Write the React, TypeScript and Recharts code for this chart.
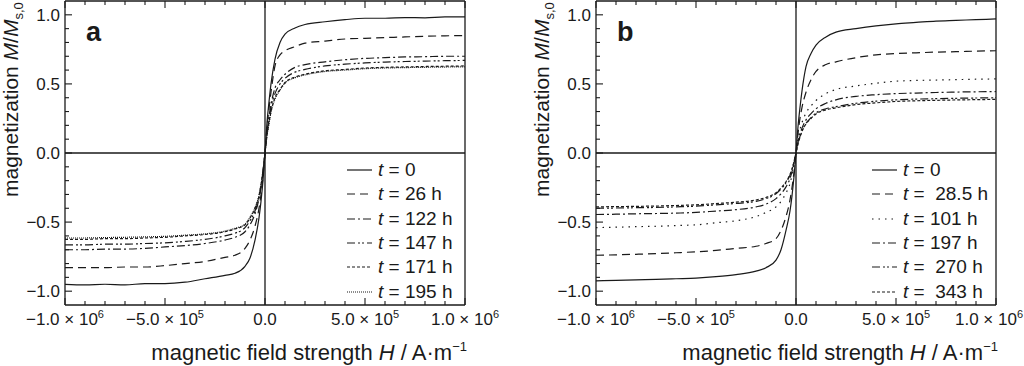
import React from 'react'
import { LineChart, Line, XAxis, YAxis, ReferenceLine, Legend } from 'recharts'

const FONT = '"Liberation Sans", Arial, sans-serif'
const INK = '#1a1a1a'

// applied field H in A/m (shared by both panels)
const H = [-1e6, -9e5, -8e5, -7e5, -6e5, -5e5, -4e5, -3e5, -2e5, -1.5e5, -1e5, -7.5e4, -5e4, -3e4, -2e4, -1e4, 0,
  1e4, 2e4, 3e4, 5e4, 7.5e4, 1e5, 1.5e5, 2e5, 3e5, 4e5, 5e5, 6e5, 7e5, 8e5, 9e5, 1e6]

// panel a
const A_T0 = [-0.95, -0.955, -0.95, -0.955, -0.945, -0.945, -0.935, -0.91, -0.885, -0.87, -0.82, -0.76, -0.63, -0.47, -0.35, -0.2, 0,
  0.22, 0.37, 0.5, 0.68, 0.8, 0.86, 0.905, 0.93, 0.95, 0.965, 0.975, 0.975, 0.98, 0.978, 0.985, 0.985]
const A_T26 = [-0.83, -0.83, -0.83, -0.825, -0.825, -0.815, -0.8, -0.785, -0.755, -0.74, -0.69, -0.63, -0.53, -0.4, -0.3, -0.17, 0,
  0.19, 0.32, 0.44, 0.63, 0.71, 0.74, 0.77, 0.795, 0.81, 0.825, 0.83, 0.835, 0.84, 0.845, 0.848, 0.85]
const A_T122 = [-0.7, -0.7, -0.695, -0.695, -0.69, -0.68, -0.67, -0.655, -0.63, -0.61, -0.57, -0.52, -0.44, -0.33, -0.25, -0.14, 0,
  0.15, 0.26, 0.35, 0.47, 0.53, 0.57, 0.62, 0.64, 0.66, 0.675, 0.685, 0.69, 0.695, 0.697, 0.7, 0.7]
const A_T147 = [-0.665, -0.665, -0.66, -0.66, -0.655, -0.65, -0.64, -0.625, -0.6, -0.58, -0.54, -0.49, -0.42, -0.32, -0.24, -0.13, 0,
  0.14, 0.24, 0.33, 0.43, 0.5, 0.54, 0.585, 0.605, 0.63, 0.643, 0.652, 0.658, 0.662, 0.665, 0.668, 0.67]
const A_T171 = [-0.625, -0.625, -0.62, -0.62, -0.615, -0.61, -0.6, -0.59, -0.57, -0.55, -0.52, -0.47, -0.4, -0.31, -0.23, -0.13, 0,
  0.13, 0.22, 0.3, 0.4, 0.46, 0.51, 0.55, 0.57, 0.595, 0.605, 0.615, 0.62, 0.623, 0.626, 0.628, 0.63]
const A_T195 = [-0.615, -0.615, -0.612, -0.61, -0.607, -0.603, -0.595, -0.585, -0.565, -0.545, -0.515, -0.465, -0.395, -0.305, -0.225, -0.125, 0,
  0.125, 0.215, 0.295, 0.39, 0.455, 0.505, 0.545, 0.565, 0.59, 0.6, 0.61, 0.615, 0.618, 0.62, 0.622, 0.624]

// panel b
const B_T0 = [-0.925, -0.922, -0.918, -0.915, -0.91, -0.905, -0.895, -0.88, -0.855, -0.83, -0.775, -0.7, -0.56, -0.42, -0.31, -0.17, 0,
  0.19, 0.33, 0.45, 0.625, 0.72, 0.78, 0.84, 0.875, 0.9, 0.92, 0.935, 0.945, 0.955, 0.96, 0.965, 0.97]
const B_T28 = [-0.74, -0.737, -0.733, -0.728, -0.722, -0.715, -0.705, -0.69, -0.675, -0.655, -0.62, -0.56, -0.46, -0.34, -0.25, -0.14, 0,
  0.14, 0.25, 0.33, 0.44, 0.53, 0.59, 0.64, 0.66, 0.69, 0.71, 0.72, 0.725, 0.73, 0.733, 0.737, 0.74]
const B_T101 = [-0.54, -0.537, -0.533, -0.53, -0.525, -0.52, -0.505, -0.49, -0.46, -0.43, -0.39, -0.35, -0.29, -0.22, -0.16, -0.09, 0,
  0.1, 0.17, 0.22, 0.29, 0.34, 0.38, 0.43, 0.46, 0.485, 0.505, 0.52, 0.525, 0.528, 0.531, 0.534, 0.536]
const B_T197 = [-0.445, -0.443, -0.44, -0.438, -0.435, -0.43, -0.42, -0.41, -0.39, -0.37, -0.33, -0.295, -0.245, -0.185, -0.135, -0.075, 0,
  0.08, 0.14, 0.18, 0.24, 0.285, 0.32, 0.36, 0.385, 0.41, 0.422, 0.43, 0.434, 0.438, 0.441, 0.443, 0.445]
const B_T270 = [-0.4, -0.398, -0.396, -0.394, -0.39, -0.385, -0.375, -0.365, -0.35, -0.33, -0.295, -0.26, -0.215, -0.16, -0.12, -0.065, 0,
  0.07, 0.12, 0.16, 0.215, 0.255, 0.29, 0.32, 0.335, 0.36, 0.375, 0.385, 0.39, 0.393, 0.396, 0.398, 0.4]
const B_T343 = [-0.39, -0.388, -0.386, -0.384, -0.38, -0.375, -0.366, -0.356, -0.34, -0.322, -0.288, -0.253, -0.208, -0.155, -0.115, -0.062, 0,
  0.065, 0.115, 0.155, 0.21, 0.25, 0.283, 0.312, 0.327, 0.35, 0.363, 0.373, 0.378, 0.381, 0.384, 0.386, 0.388]

const X_TICKS = [-1e6, -9e5, -8e5, -7e5, -6e5, -5e5, -4e5, -3e5, -2e5, -1e5, 0, 1e5, 2e5, 3e5, 4e5, 5e5, 6e5, 7e5, 8e5, 9e5, 1e6]
const Y_TICKS = [-1.0, -0.9, -0.8, -0.7, -0.6, -0.5, -0.4, -0.3, -0.2, -0.1, 0, 0.1, 0.2, 0.3, 0.4, 0.5, 0.6, 0.7, 0.8, 0.9, 1.0]

const DASH = {
  solid: undefined,
  dashed: '8 5',
  dashDot: '8 3 2 3',
  dashDotDot: '8 3 2 2 2 3',
  short: '3 2',
  dense: '1 1',
  sparse: '1.5 5',
}

const SERIES_A = [
  { key: 'a0', values: A_T0, label: ' = 0', dash: DASH.solid },
  { key: 'a26', values: A_T26, label: ' = 26 h', dash: DASH.dashed },
  { key: 'a122', values: A_T122, label: ' = 122 h', dash: DASH.dashDot },
  { key: 'a147', values: A_T147, label: ' = 147 h', dash: DASH.dashDotDot },
  { key: 'a171', values: A_T171, label: ' = 171 h', dash: DASH.short },
  { key: 'a195', values: A_T195, label: ' = 195 h', dash: DASH.dense },
]
const SERIES_B = [
  { key: 'b0', values: B_T0, label: ' = 0', dash: DASH.solid },
  { key: 'b28', values: B_T28, label: ' =  28.5 h', dash: DASH.dashed },
  { key: 'b101', values: B_T101, label: ' = 101 h', dash: DASH.sparse },
  { key: 'b197', values: B_T197, label: ' = 197 h', dash: DASH.dashDot },
  { key: 'b270', values: B_T270, label: ' =  270 h', dash: DASH.dashDotDot },
  { key: 'b343', values: B_T343, label: ' =  343 h', dash: DASH.short },
]

function buildRows(series) {
  return H.map((h, i) => {
    const row = { h }
    series.forEach(s => { row[s.key] = s.values[i] })
    return row
  })
}

const isMajorX = (v) => Math.round(v / 1e5) % 5 === 0
const isMajorY = (v) => Math.round(v * 10) % 5 === 0

function xParts(v) {
  if (v === 0) return { mant: '0.0', exp: null }
  const exp = Math.floor(Math.log10(Math.abs(v)) + 1e-9)
  const mant = (Math.abs(v) / Math.pow(10, exp)).toFixed(1)
  return { mant: (v < 0 ? '\u2212' : '') + mant + ' \u00d7 10', exp: String(exp) }
}

function BottomTick({ x, y, payload, shiftLast }) {
  const v = payload.value
  const major = isMajorX(v)
  const { mant, exp } = xParts(v)
  const last = shiftLast && v === 1e6
  return (
    <g>
      <line x1={x} x2={x} y1={y} y2={y - (major ? 7 : 4)} stroke={INK} strokeWidth={1.1} />
      {major && (
        <text x={last ? x + 27 : x} y={y + 20} textAnchor={last ? 'end' : 'middle'} fontSize={17} fill={INK} fontFamily={FONT}>
          {mant}
          {exp && <tspan fontSize={11} dy={-7}>{exp}</tspan>}
        </text>
      )}
    </g>
  )
}

function TopTick({ x, y, payload }) {
  const major = isMajorX(payload.value)
  return <line x1={x} x2={x} y1={y} y2={y + (major ? 7 : 4)} stroke={INK} strokeWidth={1.1} />
}

function LeftTick({ x, y, payload }) {
  const v = payload.value
  const major = isMajorY(v)
  const txt = v.toFixed(1).replace('-', '\u2212')
  return (
    <g>
      <line x1={x} x2={x + (major ? 7 : 4)} y1={y} y2={y} stroke={INK} strokeWidth={1.1} />
      {major && (
        <text x={x - 5} y={y + 6} textAnchor="end" fontSize={17} fill={INK} fontFamily={FONT}>{txt}</text>
      )}
    </g>
  )
}

function RightTick({ x, y, payload }) {
  const major = isMajorY(payload.value)
  return <line x1={x} x2={x - (major ? 7 : 4)} y1={y} y2={y} stroke={INK} strokeWidth={1.1} />
}

function XTitle({ viewBox }) {
  const right = viewBox.x + viewBox.width + 2
  return (
    <text x={right} y={viewBox.y + 55} textAnchor="end" fontSize={22} fill={INK} fontFamily={FONT}>
      magnetic field strength <tspan fontStyle="italic">H</tspan> / A·m
      <tspan fontSize={13} dy={-9}>{'\u22121'}</tspan>
    </text>
  )
}

function YTitle({ viewBox }) {
  const x = viewBox.x + 18
  const y = 197
  return (
    <text x={x} y={y} transform={`rotate(-90, ${x}, ${y})`} textAnchor="start" fontSize={21} fill={INK} fontFamily={FONT}>
      magnetization <tspan fontStyle="italic">M</tspan>/<tspan fontStyle="italic">M</tspan>
      <tspan fontSize={13} dy={5}>s,0</tspan>
    </text>
  )
}

function LegendBox({ series }) {
  return (
    <div style={{ fontFamily: FONT, fontSize: 19, color: INK }}>
      {series.map(s => (
        <div key={s.key} style={{ height: 24.3, display: 'flex', alignItems: 'center' }}>
          <svg width={25} height={8} style={{ display: 'block' }}>
            <line x1={0} x2={25} y1={4} y2={4} stroke={INK} strokeWidth={1.2} strokeDasharray={s.dash} />
          </svg>
          <span style={{ marginLeft: 6, whiteSpace: 'pre' }}><i>t</i>{s.label}</span>
        </div>
      ))}
    </div>
  )
}

function Panel({ series, width, rightWidth, letter, legendLeft, shiftLast }) {
  const rows = buildRows(series)
  return (
    <div style={{ position: 'relative' }}>
      <LineChart width={width} height={366} data={rows} margin={{ top: 0, right: 0, bottom: 1, left: 0 }}>
        <XAxis xAxisId="bottom" dataKey="h" type="number" domain={[-1e6, 1e6]} ticks={X_TICKS} interval={0}
          height={60} tickSize={0} tickMargin={0} stroke={INK} strokeWidth={1.3}
          tick={(p) => <BottomTick {...p} shiftLast={shiftLast} />} label={<XTitle />} />
        <XAxis xAxisId="top" orientation="top" dataKey="h" type="number" domain={[-1e6, 1e6]} ticks={X_TICKS} interval={0}
          height={1} tickSize={0} tickMargin={0} stroke={INK} strokeWidth={1.3} tick={(p) => <TopTick {...p} />} />
        <YAxis yAxisId="left" type="number" domain={[-1.1, 1.1]} ticks={Y_TICKS} interval={0}
          width={65} tickSize={0} tickMargin={0} stroke={INK} strokeWidth={1.3}
          tick={(p) => <LeftTick {...p} />} label={<YTitle />} />
        <YAxis yAxisId="right" orientation="right" type="number" domain={[-1.1, 1.1]} ticks={Y_TICKS} interval={0}
          width={rightWidth} tickSize={0} tickMargin={0} stroke={INK} strokeWidth={1.3} tick={(p) => <RightTick {...p} />} />
        <ReferenceLine xAxisId="bottom" yAxisId="left" x={0} stroke={INK} strokeWidth={1.3} />
        <ReferenceLine xAxisId="bottom" yAxisId="left" y={0} stroke={INK} strokeWidth={1.3} />
        {series.map(s => (
          <Line key={s.key} xAxisId="bottom" yAxisId="left" type="monotone" dataKey={s.key} stroke={INK}
            strokeWidth={1.2} strokeDasharray={s.dash} dot={false} isAnimationActive={false} />
        ))}
        <Legend layout="vertical" align="center" verticalAlign="middle"
          wrapperStyle={{ left: legendLeft, top: 158, width: 'auto' }}
          content={() => <LegendBox series={series} />} />
      </LineChart>
      <div style={{ position: 'absolute', left: 86, top: 17, fontFamily: FONT, fontWeight: 'bold', fontSize: 27, color: INK }}>
        {letter}
      </div>
    </div>
  )
}

export default function App() {
  return (
    <div style={{ position: 'absolute', left: 0, top: 0, width: 1024, height: 366, background: '#fff', overflow: 'hidden' }}>
      <div style={{ position: 'absolute', left: 0, top: 0 }}>
        <Panel series={SERIES_A} width={510} rightWidth={45} letter="a" legendLeft={347} shiftLast={false} />
      </div>
      <div style={{ position: 'absolute', left: 531, top: 0 }}>
        <Panel series={SERIES_B} width={493} rightWidth={28} letter="b" legendLeft={341} shiftLast={true} />
      </div>
    </div>
  )
}
